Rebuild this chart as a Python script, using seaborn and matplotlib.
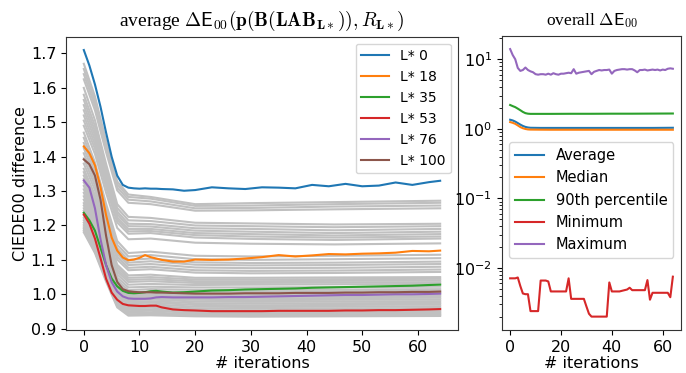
import numpy as np
import pandas as pd
import matplotlib
matplotlib.use("Agg")
import matplotlib.pyplot as plt
import seaborn as sns

# ---------------- data: left panel ----------------
GRAY_X = [0, 2, 4, 6, 8, 12, 20, 30, 45, 64]
GRAY_LINES = [
    [1.670, 1.575, 1.446, 1.328, 1.290, 1.283, 1.262, 1.265, 1.268, 1.272],
    [1.655, 1.562, 1.436, 1.320, 1.283, 1.278, 1.257, 1.258, 1.262, 1.266],
    [1.640, 1.549, 1.425, 1.311, 1.275, 1.270, 1.250, 1.251, 1.255, 1.258],
    [1.625, 1.535, 1.413, 1.302, 1.266, 1.262, 1.243, 1.244, 1.247, 1.250],
    [1.600, 1.506, 1.379, 1.262, 1.225, 1.222, 1.208, 1.206, 1.203, 1.205],
    [1.580, 1.489, 1.365, 1.251, 1.215, 1.213, 1.200, 1.198, 1.195, 1.198],
    [1.565, 1.475, 1.353, 1.241, 1.205, 1.204, 1.192, 1.190, 1.186, 1.190],
    [1.550, 1.462, 1.342, 1.233, 1.198, 1.197, 1.185, 1.182, 1.178, 1.182],
    [1.535, 1.449, 1.331, 1.224, 1.190, 1.190, 1.178, 1.175, 1.171, 1.175],
    [1.520, 1.436, 1.321, 1.217, 1.183, 1.184, 1.172, 1.168, 1.165, 1.168],
    [1.505, 1.423, 1.311, 1.209, 1.176, 1.178, 1.165, 1.161, 1.158, 1.162],
    [1.490, 1.408, 1.295, 1.193, 1.160, 1.162, 1.150, 1.147, 1.145, 1.148],
    [1.470, 1.383, 1.263, 1.155, 1.120, 1.124, 1.112, 1.110, 1.112, 1.115],
    [1.455, 1.369, 1.251, 1.144, 1.110, 1.114, 1.102, 1.100, 1.102, 1.105],
    [1.440, 1.355, 1.239, 1.134, 1.100, 1.104, 1.093, 1.091, 1.092, 1.095],
    [1.425, 1.342, 1.229, 1.125, 1.092, 1.096, 1.086, 1.084, 1.085, 1.088],
    [1.410, 1.329, 1.218, 1.117, 1.085, 1.088, 1.078, 1.076, 1.077, 1.080],
    [1.395, 1.316, 1.207, 1.109, 1.077, 1.080, 1.070, 1.068, 1.069, 1.072],
    [1.380, 1.303, 1.197, 1.101, 1.070, 1.073, 1.063, 1.061, 1.062, 1.065],
    [1.365, 1.288, 1.182, 1.086, 1.055, 1.057, 1.048, 1.048, 1.049, 1.050],
    [1.355, 1.278, 1.174, 1.079, 1.048, 1.050, 1.043, 1.043, 1.044, 1.045],
    [1.345, 1.269, 1.166, 1.072, 1.042, 1.044, 1.038, 1.038, 1.039, 1.040],
    [1.335, 1.260, 1.159, 1.066, 1.036, 1.038, 1.033, 1.033, 1.034, 1.035],
    [1.325, 1.251, 1.150, 1.058, 1.028, 1.030, 1.027, 1.028, 1.029, 1.030],
    [1.315, 1.241, 1.141, 1.049, 1.020, 1.022, 1.020, 1.020, 1.021, 1.022],
    [1.305, 1.232, 1.132, 1.041, 1.012, 1.015, 1.013, 1.013, 1.014, 1.015],
    [1.295, 1.223, 1.124, 1.034, 1.005, 1.008, 1.007, 1.008, 1.009, 1.010],
    [1.285, 1.214, 1.117, 1.028, 1.000, 1.003, 1.002, 1.003, 1.004, 1.005],
    [1.275, 1.205, 1.110, 1.024, 0.996, 0.999, 0.998, 0.998, 0.999, 1.000],
    [1.265, 1.197, 1.105, 1.020, 0.993, 0.996, 0.993, 0.993, 0.994, 0.995],
    [1.258, 1.191, 1.100, 1.017, 0.990, 0.992, 0.988, 0.988, 0.989, 0.990],
    [1.250, 1.184, 1.095, 1.013, 0.987, 0.989, 0.984, 0.983, 0.984, 0.985],
    [1.243, 1.178, 1.090, 1.009, 0.983, 0.985, 0.979, 0.978, 0.979, 0.980],
    [1.236, 1.172, 1.084, 1.004, 0.978, 0.980, 0.974, 0.973, 0.974, 0.975],
    [1.229, 1.165, 1.079, 0.999, 0.974, 0.976, 0.969, 0.968, 0.969, 0.970],
    [1.222, 1.159, 1.073, 0.995, 0.970, 0.971, 0.964, 0.963, 0.964, 0.965],
    [1.215, 1.152, 1.067, 0.989, 0.964, 0.966, 0.959, 0.958, 0.959, 0.960],
    [1.208, 1.146, 1.062, 0.985, 0.960, 0.961, 0.954, 0.953, 0.954, 0.955],
    [1.201, 1.140, 1.056, 0.980, 0.955, 0.956, 0.949, 0.948, 0.949, 0.950],
    [1.195, 1.134, 1.051, 0.975, 0.951, 0.952, 0.946, 0.945, 0.946, 0.947],
    [1.190, 1.129, 1.046, 0.970, 0.946, 0.947, 0.942, 0.941, 0.942, 0.943],
    [1.185, 1.124, 1.042, 0.966, 0.942, 0.943, 0.939, 0.938, 0.939, 0.940],
    [1.180, 1.120, 1.037, 0.962, 0.938, 0.939, 0.936, 0.935, 0.936, 0.937],
]

HL_X = [0, 1, 2, 3, 4, 5, 6, 7, 8, 9, 10, 11, 12, 13, 14, 16, 18, 20, 23, 26,
        29, 32, 35, 38, 41, 44, 47, 50, 53, 56, 59, 62, 64]
HL_LABELS = ["L* 0", "L* 18", "L* 35", "L* 53", "L* 76", "L* 100"]
L0 = [1.710, 1.665, 1.610, 1.545, 1.470, 1.400, 1.345, 1.318, 1.310, 1.308, 1.307,
      1.308, 1.307, 1.307, 1.306, 1.305, 1.301, 1.303, 1.311, 1.308, 1.306, 1.311,
      1.310, 1.308, 1.318, 1.314, 1.321, 1.314, 1.316, 1.325, 1.318, 1.326, 1.330]
L18 = [1.430, 1.410, 1.375, 1.312, 1.230, 1.165, 1.127, 1.107, 1.099, 1.101, 1.106,
       1.114, 1.108, 1.104, 1.100, 1.095, 1.095, 1.101, 1.100, 1.101, 1.104, 1.108,
       1.114, 1.110, 1.113, 1.117, 1.116, 1.118, 1.119, 1.121, 1.126, 1.125, 1.127]
L35 = [1.237, 1.215, 1.185, 1.135, 1.085, 1.046, 1.023, 1.010, 1.004, 1.003, 1.004,
       1.006, 1.009, 1.010, 1.008, 1.005, 1.006, 1.008, 1.011, 1.012, 1.014, 1.015,
       1.016, 1.017, 1.019, 1.020, 1.021, 1.022, 1.023, 1.024, 1.025, 1.027, 1.028]
L53 = [1.232, 1.205, 1.162, 1.105, 1.045, 1.005, 0.984, 0.972, 0.968, 0.967, 0.966,
       0.966, 0.967, 0.967, 0.962, 0.956, 0.954, 0.953, 0.951, 0.951, 0.951, 0.951,
       0.952, 0.952, 0.952, 0.952, 0.953, 0.953, 0.954, 0.954, 0.955, 0.956, 0.957]
L76 = [1.331, 1.310, 1.250, 1.160, 1.085, 1.035, 1.008, 0.994, 0.988, 0.987, 0.987,
       0.987, 0.988, 0.991, 0.992, 0.991, 0.991, 0.991, 0.991, 0.992, 0.992, 0.993,
       0.994, 0.995, 0.996, 0.997, 0.998, 0.998, 0.999, 1.000, 1.000, 1.001, 1.002]
L100 = [1.392, 1.378, 1.345, 1.275, 1.170, 1.085, 1.036, 1.015, 1.009, 1.007, 1.006,
        1.006, 1.006, 1.005, 1.005, 1.004, 1.003, 1.002, 1.002, 1.002, 1.003, 1.003,
        1.003, 1.004, 1.004, 1.004, 1.005, 1.005, 1.006, 1.006, 1.007, 1.007, 1.008]
HL_COLORS = ["#1f77b4", "#ff7f0e", "#2ca02c", "#d62728", "#9467bd", "#8c564b"]

# ---------------- data: right panel ----------------
STAT_X = [0, 1, 2, 3, 4, 5, 6, 7, 8, 12, 16, 24, 32, 40, 48, 56, 64]
AVERAGE = [1.35, 1.32, 1.27, 1.21, 1.15, 1.10, 1.065, 1.045, 1.035, 1.03, 1.03,
           1.03, 1.03, 1.03, 1.03, 1.03, 1.035]
MEDIAN = [1.25, 1.22, 1.18, 1.12, 1.06, 1.02, 0.995, 0.98, 0.975, 0.972, 0.97,
          0.97, 0.97, 0.97, 0.97, 0.97, 0.97]
P90 = [2.20, 2.12, 2.05, 1.95, 1.85, 1.75, 1.68, 1.65, 1.64, 1.64, 1.64, 1.645,
       1.645, 1.65, 1.65, 1.655, 1.66]
ITER = list(range(65))
MINIMUM = [0.0071, 0.0071, 0.0071, 0.0073, 0.0055, 0.0043, 0.0042, 0.0042, 0.0024,
           0.0024, 0.0024, 0.0024, 0.0066, 0.0066, 0.0066, 0.0064, 0.0046, 0.0046,
           0.0046, 0.0046, 0.0046, 0.0046, 0.0046, 0.0071, 0.0036, 0.0036, 0.0036,
           0.0036, 0.0036, 0.0036, 0.0028, 0.0022, 0.0020, 0.0020, 0.0020, 0.0020,
           0.0020, 0.0020, 0.0020, 0.0062, 0.0046, 0.0046, 0.0046, 0.0046, 0.0047,
           0.0048, 0.0049, 0.0052, 0.0048, 0.0048, 0.0048, 0.0048, 0.0048, 0.0048,
           0.0067, 0.0035, 0.0044, 0.0044, 0.0044, 0.0044, 0.0044, 0.0044, 0.0044,
           0.0038, 0.0075]
MAXIMUM = [14.0, 11.5, 10.0, 7.5, 6.8, 7.0, 7.6, 7.0, 6.7, 6.5, 6.1, 6.0, 6.1, 6.1,
           6.0, 6.2, 6.0, 6.3, 6.1, 6.0, 6.2, 6.2, 6.3, 6.4, 6.3, 7.2, 6.2, 6.4, 6.5,
           6.6, 6.7, 6.8, 6.1, 6.6, 6.8, 7.0, 6.9, 7.0, 7.0, 7.1, 6.2, 6.8, 7.0, 7.1,
           7.2, 7.2, 7.1, 7.2, 7.2, 6.9, 6.5, 7.0, 7.0, 7.1, 6.9, 7.0, 7.1, 7.0, 7.1,
           6.9, 7.1, 7.0, 7.3, 7.4, 7.3]
STAT_LABELS = ["Average", "Median", "90th percentile", "Minimum", "Maximum"]
STAT_COLORS = ["#1f77b4", "#ff7f0e", "#2ca02c", "#d62728", "#9467bd"]

# ---------------- build frames ----------------
gray_rows = []
for i, line in enumerate(GRAY_LINES):
    for x, v in zip(GRAY_X, line):
        gray_rows.append({"it": x, "val": v, "line": i})
df_gray = pd.DataFrame(gray_rows)

hl_series = [L0, L18, L35, L53, L76, L100]
hl_rows = []
for lab, ser in zip(HL_LABELS, hl_series):
    for x, v in zip(HL_X, ser):
        hl_rows.append({"it": x, "val": v, "label": lab})
df_hl = pd.DataFrame(hl_rows)

stat_rows = []
for lab, xs, ser in [("Average", STAT_X, AVERAGE), ("Median", STAT_X, MEDIAN),
                     ("90th percentile", STAT_X, P90), ("Minimum", ITER, MINIMUM),
                     ("Maximum", ITER, MAXIMUM)]:
    for x, v in zip(xs, ser):
        stat_rows.append({"it": x, "val": v, "label": lab})
df_stat = pd.DataFrame(stat_rows)

# ---------------- plot ----------------
plt.rcParams["font.family"] = ["DejaVu Sans"]
plt.rcParams["font.serif"] = ["Liberation Serif", "DejaVu Serif"]
plt.rcParams["axes.edgecolor"] = "#333333"

TICK_FS = 11.5
fig = plt.figure(figsize=(6.86, 3.73), dpi=100)
ax1 = fig.add_axes([0.0962, 0.1153, 0.5714, 0.7863])
ax2 = fig.add_axes([0.7318, 0.1153, 0.2609, 0.789])

sns.lineplot(data=df_gray, x="it", y="val", units="line", estimator=None,
             color="#c0c0c0", linewidth=1.5, ax=ax1, legend=False)
sns.lineplot(data=df_hl, x="it", y="val", hue="label", hue_order=HL_LABELS,
             palette=HL_COLORS, linewidth=1.5, ax=ax1, estimator=None)
ax1.legend(loc="upper right", fontsize=10, handlelength=2.0)
ax1.set_xlabel("# iterations", fontsize=TICK_FS, labelpad=1)
ax1.set_ylabel("CIEDE00 difference", fontsize=TICK_FS, labelpad=2)
ax1.set_xticks([0, 10, 20, 30, 40, 50, 60])
ax1.set_yticks([0.9, 1.0, 1.1, 1.2, 1.3, 1.4, 1.5, 1.6, 1.7])
ax1.tick_params(labelsize=TICK_FS)
ax1.set_title(r"average $\mathsf{\Delta E}_{\mathsf{00}}(\mathbf{p}(\mathbf{B}(\mathbf{LAB}_{\mathbf{L}*})),R_{\mathbf{L}*})$",
              fontfamily="serif", math_fontfamily="cm", fontsize=14, pad=8)

sns.lineplot(data=df_stat, x="it", y="val", hue="label", hue_order=STAT_LABELS,
             palette=STAT_COLORS, linewidth=1.5, ax=ax2, estimator=None)
ax2.set_yscale("log")
ax2.legend(loc="upper left", bbox_to_anchor=(0.04, 0.638), borderaxespad=0,
           fontsize=10.5, handlelength=2.0)
ax2.set_xlabel("# iterations", fontsize=TICK_FS, labelpad=1)
ax2.set_ylabel("")
ax2.set_xticks([0, 20, 40, 60])
ax2.tick_params(labelsize=TICK_FS)
ax2.set_title(r"overall $\mathsf{\Delta E}_{\mathsf{00}}$",
              fontfamily="serif", math_fontfamily="cm", fontsize=12.5, pad=8)

fig.savefig("out.png", dpi=100)
